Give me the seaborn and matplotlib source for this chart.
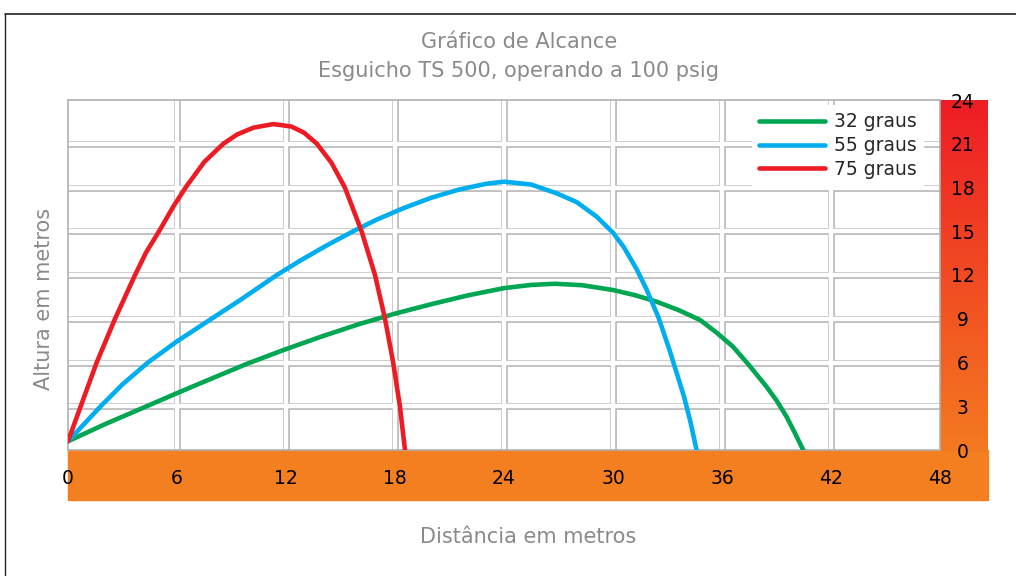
import numpy as np
import pandas as pd
import matplotlib.pyplot as plt
import seaborn as sns
from matplotlib.patches import Rectangle
from matplotlib.lines import Line2D
from matplotlib.colors import LinearSegmentedColormap

# Trajectory readings (distance in m, height in m)
dist_32 = [0, 2, 4.33, 6, 8, 9.83, 11.85, 14, 16.07, 18, 20, 22, 24, 25.5, 26.8, 28.3, 30,
           31.2, 32.4, 33.6, 34.8, 35.7, 36.6, 37.5, 38.45, 39, 39.55, 40, 40.47]
alt_32 = [0.6, 1.75, 3.0, 3.9, 4.95, 5.9, 6.85, 7.8, 8.65, 9.35, 10.0, 10.6, 11.1, 11.32, 11.4, 11.3, 10.97,
          10.62, 10.17, 9.6, 8.91, 8.05, 7.09, 5.8, 4.34, 3.4, 2.29, 1.2, 0]

dist_55 = [0, 1.8, 3, 4.4, 6, 7.9, 9.5, 11.5, 12.8, 14.2, 15.7, 17, 18.5, 20, 21.5, 23, 24,
           25.5, 26.9, 28, 29.1, 30, 30.6, 31.3, 31.85, 32.5, 33.1, 33.6, 33.9, 34.25, 34.6]
alt_55 = [0.6, 3.0, 4.5, 6.0, 7.45, 9.0, 10.3, 12.0, 13.0, 14.0, 15.0, 15.8, 16.6, 17.3, 17.85, 18.25, 18.4,
          18.2, 17.6, 17.0, 16.0, 14.9, 13.9, 12.4, 11.0, 9.1, 6.9, 4.9, 3.7, 2.0, 0]

dist_75 = [0, 0.7, 1.58, 2.59, 3.69, 4.3, 5.06, 5.8, 6.53, 7.5, 8.55, 9.3, 10.2, 11.3, 12.3, 13.0, 13.7,
           14.5, 15.24, 16.16, 16.9, 17.45, 17.9, 18.27, 18.55]
alt_75 = [0.6, 3.0, 6.0, 9.0, 12.0, 13.55, 15.1, 16.7, 18.1, 19.75, 21.0, 21.63, 22.1, 22.35, 22.18, 21.75, 21.0,
          19.7, 18.0, 15.0, 12.0, 9.0, 6.0, 3.0, 0]

labels = ["32 graus", "55 graus", "75 graus"]
colors = ["#00A651", "#00AEEF", "#ED1C24"]
x_ticks = list(range(0, 49, 6))
y_ticks = list(range(0, 25, 3))

df = pd.concat([
    pd.DataFrame({"dist": dist_32, "alt": alt_32, "angulo": labels[0]}),
    pd.DataFrame({"dist": dist_55, "alt": alt_55, "angulo": labels[1]}),
    pd.DataFrame({"dist": dist_75, "alt": alt_75, "angulo": labels[2]}),
], ignore_index=True)

sns.set_style("white")
plt.rcParams['font.family'] = ['DejaVu Sans']

W, H = 1016, 576
fig = plt.figure(figsize=(W / 100, H / 100), dpi=100)

# main plotting area (pixels: x 68..940, y 100..450)
ax = fig.add_axes([68 / W, 1 - 450 / H, 872 / W, 350 / H])
ax.set_zorder(2)

# orange bottom band
fig.add_artist(Rectangle((68 / W, 1 - 500 / H), 920 / W, 50 / H,
                         transform=fig.transFigure, color="#F47F20", zorder=0.5))

# red-orange gradient band on the right
band = fig.add_axes([940 / W, 1 - 452 / H, 48 / W, 352 / H])
band.set_zorder(0.6)
cmap = LinearSegmentedColormap.from_list("band", ["#F47A20", "#EE1C25"])
band.imshow(np.linspace(0, 1, 256).reshape(-1, 1), cmap=cmap, aspect="auto",
            origin="lower", extent=(0, 1, 0, 1))
band.axis("off")

# double line grid
inner_x = x_ticks[1:-1]
inner_y = y_ticks[1:-1]
ax.vlines(inner_x, 0, 24, color="#b5b5b5", lw=4.8, zorder=1)
ax.hlines(inner_y, 0, 48, color="#b5b5b5", lw=4.8, zorder=1)
ax.vlines(inner_x, 0, 24, color="white", lw=3.2, zorder=1.1)
ax.hlines(inner_y, 0, 48, color="white", lw=3.2, zorder=1.1)

sns.lineplot(data=df, x="dist", y="alt", hue="angulo", palette=colors,
             sort=False, estimator=None, lw=3.3, ax=ax, zorder=3,
             solid_capstyle="round", solid_joinstyle="round")

ax.set_xlim(0, 48)
ax.set_ylim(0, 24)
ax.set_xticks(x_ticks)
ax.set_yticks(y_ticks)
ax.yaxis.tick_right()
ax.tick_params(axis="x", length=0, pad=13.5, labelsize=13.5, colors="black")
ax.tick_params(axis="y", length=0, pad=16.5, labelsize=13.5, colors="black")
for t in ax.get_yticklabels():
    t.set_horizontalalignment("center")
ax.set_xlabel("")
ax.set_ylabel("")
for s in ax.spines.values():
    s.set_color("#b0b0b0")
    s.set_linewidth(1.2)

handles = [Line2D([0], [0], color=c, lw=3.3, solid_capstyle="round") for c in colors]
leg = ax.legend(handles, labels, loc="upper left", bbox_to_anchor=(0.784, 0.986),
                fontsize=13.5, frameon=True, facecolor="white", edgecolor="none",
                framealpha=1, borderaxespad=0, borderpad=0.4, handlelength=3.5,
                handletextpad=0.5, labelspacing=0.25, fancybox=False)

gray = "#8a8a8a"
fig.text(519 / W, 1 - 42 / H, "Gráfico de Alcance", ha="center", va="center",
         fontsize=15, color=gray)
fig.text(519 / W, 1 - 71 / H, "Esguicho TS 500, operando a 100 psig", ha="center",
         va="center", fontsize=15, color=gray)
fig.text(528 / W, 1 - 537 / H, "Distância em metros", ha="center", va="center",
         fontsize=15, color=gray)
fig.text(44 / W, 1 - 299 / H, "Altura em metros", ha="center", va="center",
         fontsize=15, color=gray, rotation=90)

# outer frame (left and top edges)
fig.add_artist(Line2D([4.5 / W, 4.5 / W], [0, 1 - 14 / H], color="#222222", lw=1,
                      transform=fig.transFigure))
fig.add_artist(Line2D([4.5 / W, 1], [1 - 14 / H, 1 - 14 / H], color="#222222", lw=1.2,
                      transform=fig.transFigure))

fig.savefig("out.png", dpi=100)
